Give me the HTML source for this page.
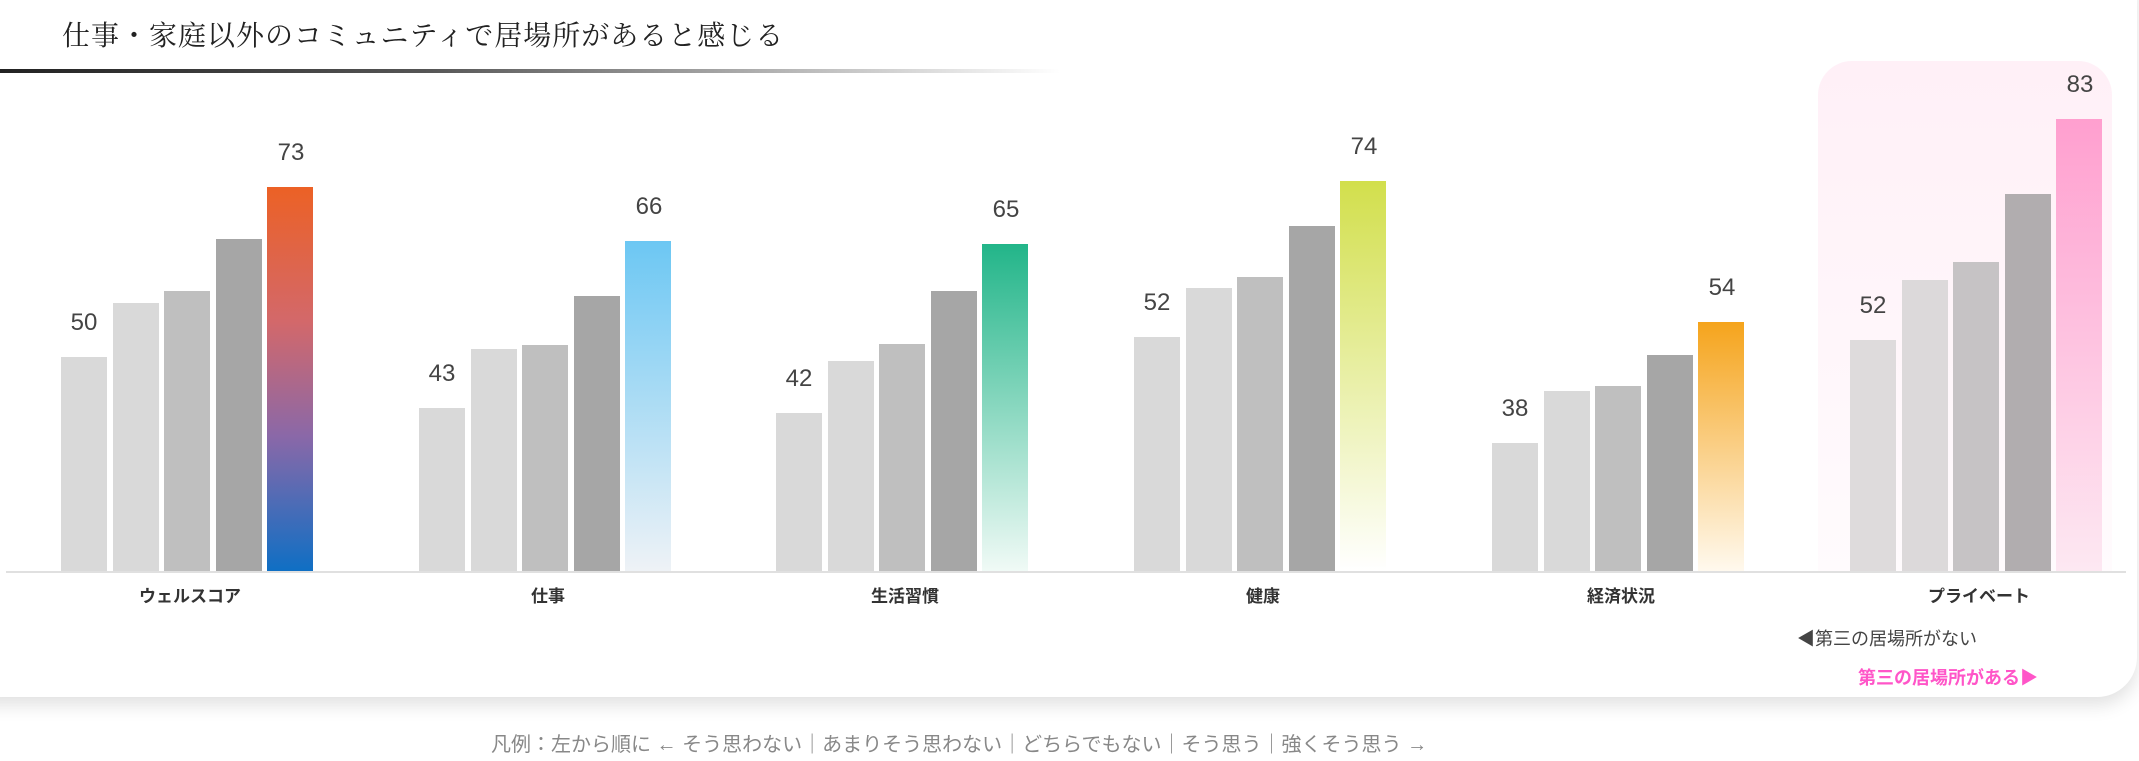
<!DOCTYPE html>
<html><head><meta charset="utf-8">
<style>
*{margin:0;padding:0;box-sizing:border-box}
body{width:2139px;height:761px;background:#fff;position:relative;overflow:hidden;font-family:"Liberation Sans","Noto Sans CJK JP",sans-serif}
.card{position:absolute;left:-20px;top:-20px;width:2157px;height:717px;background:#fff;border-radius:0 0 40px 0;box-shadow:0 8px 18px rgba(0,0,0,0.12)}
.title{position:absolute;left:62px;top:14px;font-family:"Noto Serif CJK SC","Liberation Serif",serif;font-size:28px;color:#222;white-space:nowrap;letter-spacing:1px}
.rule{position:absolute;left:0;top:69px;width:1060px;height:4px;background:linear-gradient(to right,#222 0%,#555 40%,#aaa 70%,rgba(255,255,255,0) 100%)}
.panel{position:absolute;left:1818px;top:61px;width:294px;height:512px;border-radius:34px 34px 0 0;background:linear-gradient(to bottom,#fff0f7,#fffbfd)}
.bar{position:absolute;width:46px}
.base{position:absolute;left:6px;top:571px;width:2120px;height:2px;background:#e0e0e0}
.v{position:absolute;font-size:24px;color:#444;width:60px;text-align:center}
.cat{position:absolute;top:582px;width:260px;text-align:center;font-size:17px;font-weight:bold;color:#333}
.lg{position:absolute;font-size:18px;white-space:nowrap}
.foot{position:absolute;left:491px;top:728px;font-size:20px;color:#888;white-space:nowrap}
</style></head><body>
<div class="card"></div>
<div class="title">仕事・家庭以外のコミュニティで居場所があると感じる</div>
<div class="rule"></div>
<div class="panel"></div>
<div id="bars"></div>
<div class="base"></div>

<div class="v" style="left:54px;top:309px">50</div>
<div class="v" style="left:261px;top:139px">73</div>
<div class="v" style="left:412px;top:360px">43</div>
<div class="v" style="left:619px;top:193px">66</div>
<div class="v" style="left:769px;top:365px">42</div>
<div class="v" style="left:976px;top:196px">65</div>
<div class="v" style="left:1127px;top:289px">52</div>
<div class="v" style="left:1334px;top:133px">74</div>
<div class="v" style="left:1485px;top:395px">38</div>
<div class="v" style="left:1692px;top:274px">54</div>
<div class="v" style="left:1843px;top:292px">52</div>
<div class="v" style="left:2050px;top:71px">83</div>

<div class="cat" style="left:60px">ウェルスコア</div>
<div class="cat" style="left:418px">仕事</div>
<div class="cat" style="left:775px">生活習慣</div>
<div class="cat" style="left:1133px">健康</div>
<div class="cat" style="left:1491px">経済状況</div>
<div class="cat" style="left:1849px">プライベート</div>

<div class="lg" style="left:1797px;top:625px;color:#444">◀第三の居場所がない</div>
<div class="lg" style="left:1858px;top:664px;color:#ff55c8;font-weight:bold">第三の居場所がある▶</div>
<div class="foot">凡例：左から順に ← そう思わない｜あまりそう思わない｜どちらでもない｜そう思う｜強くそう思う →</div>

<script>
var starts=[61,419,776,1134,1492,1850];
var tops=[[357,303,291,239,187],[408,349,345,296,241],[413,361,344,291,244],[337,288,277,226,181],[443,391,386,355,322],[340,280,262,194,119]];
var grey=['#d9d9d9','#d9d9d9','#bfbfbf','#a6a6a6'];
var greyP=['#dedbdc','#dcd9da','#c6c3c5','#b1adaf'];
var hi=['linear-gradient(to bottom,#ec6125,#d3686a 35%,#8a68a8 65%,#0f6fc4)',
'linear-gradient(to bottom,#6cc7f3,#eef2f6)',
'linear-gradient(to bottom,#22b589,#f0faf6)',
'linear-gradient(to bottom,#d2df4c,#fff)',
'linear-gradient(to bottom,#f5a41c,#fff9ee)',
'linear-gradient(to bottom,#ff9fcf,#fde8f2)'];
var h='';
for(var g=0;g<6;g++){for(var b=0;b<5;b++){var x=starts[g]+b*51.5,t=tops[g][b];
var bg=b<4?(g==5?greyP[b]:grey[b]):hi[g];
h+='<div class="bar" style="left:'+x+'px;top:'+t+'px;height:'+(571-t)+'px;background:'+bg+'"></div>';}}
document.getElementById('bars').innerHTML=h;
</script>
</body></html>
